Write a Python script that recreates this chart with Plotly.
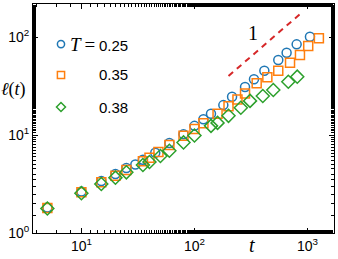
import plotly.graph_objects as go

# Data
t_025 = [5, 10, 15, 20, 25, 30, 35, 45, 60, 80, 100, 120, 140, 180, 215, 280, 336, 415, 551, 653, 801, 1050]
l_025 = [1.82, 2.65, 3.4, 4.0, 4.6, 5.0, 5.6, 6.6, 8.3, 10.2, 12.4, 14.5, 16.5, 20.2, 24.6, 30.9, 37, 45.3, 58.2, 69.2, 84.2, 100.7]

t_035 = [5, 10, 15, 20, 25, 35, 40, 48, 60, 80, 100, 120, 160, 200, 240, 280, 355, 441, 551, 700, 857, 1014, 1260]
l_035 = [1.8, 2.6, 3.3, 3.85, 4.4, 5.4, 5.85, 6.7, 7.9, 9.8, 11.5, 13.2, 16.5, 19.6, 23.1, 26.6, 33.7, 38.8, 45.3, 54.7, 65.5, 80.9, 97]

t_038 = [5, 10, 15, 20, 25, 35, 40, 50, 60, 80, 100, 140, 160, 200, 257, 310, 402, 498, 676, 811]
l_038 = [1.78, 2.55, 3.16, 3.67, 4.16, 4.94, 5.3, 6.1, 6.9, 8.4, 9.9, 12.4, 13.3, 15.7, 19, 22.3, 25, 28.8, 35, 39.4]

temps = ["0.25", "0.35", "0.38"]
colors = ["#1f77b4", "#ff7f0e", "#2ca02c"]

guide_t = [200, 870]
guide_l = [40, 174]
guide_label = "1"

x_tickvals = [10, 100, 1000]
x_ticktext = ["10<sup>1</sup>", "10<sup>2</sup>", "10<sup>3</sup>"]
y_tickvals = [1, 10, 100]
y_ticktext = ["10<sup>0</sup>", "10<sup>1</sup>", "10<sup>2</sup>"]

SERIF = "Liberation Serif"
SANS = "Liberation Sans"

fig = go.Figure()
fig.add_trace(go.Scatter(x=t_025, y=l_025, mode="markers", name="T=" + temps[0], showlegend=False,
                         marker=dict(symbol="circle-open", size=9, color=colors[0], line=dict(width=1.5))))
fig.add_trace(go.Scatter(x=t_035, y=l_035, mode="markers", name="T=" + temps[1], showlegend=False,
                         marker=dict(symbol="square-open", size=9, color=colors[1], line=dict(width=1.5))))
fig.add_trace(go.Scatter(x=t_038, y=l_038, mode="markers", name="T=" + temps[2], showlegend=False,
                         marker=dict(symbol="diamond-open", size=10, color=colors[2], line=dict(width=1.5))))
fig.add_trace(go.Scatter(x=guide_t, y=guide_l, mode="lines", showlegend=False,
                         line=dict(color="#d62728", width=2, dash="6px,5px")))

# Legend (keys as pixel-sized shapes, labels as text)
leg_x = 0.093
leg_y = [0.825, 0.690, 0.550]
text_right = 0.322
fig.add_shape(type="circle", xref="paper", yref="paper", xsizemode="pixel", ysizemode="pixel",
              xanchor=leg_x, yanchor=leg_y[0], x0=-3.6, x1=3.6, y0=-3.6, y1=3.6,
              line=dict(color=colors[0], width=1.5))
fig.add_shape(type="rect", xref="paper", yref="paper", xsizemode="pixel", ysizemode="pixel",
              xanchor=leg_x, yanchor=leg_y[1], x0=-3.6, x1=3.6, y0=-3.6, y1=3.6,
              line=dict(color=colors[1], width=1.5))
fig.add_shape(type="path", xref="paper", yref="paper", xsizemode="pixel", ysizemode="pixel",
              xanchor=leg_x, yanchor=leg_y[2], path="M -4.5 0 L 0 4.5 L 4.5 0 L 0 -4.5 Z",
              line=dict(color=colors[2], width=1.5))
legend_texts = [
    '<span style="font-family:Liberation Serif;font-size:19px"><i>T</i>\u2009=\u2009</span>' + temps[0],
    temps[1],
    temps[2],
]
for txt, yy in zip(legend_texts, leg_y):
    fig.add_annotation(x=text_right, y=yy, xref="paper", yref="paper", xanchor="right", yanchor="middle",
                       text=txt, showarrow=False, font=dict(family=SANS, size=15, color="black"))

fig.add_annotation(x=2.521, y=2.04, xref="x", yref="y", text=guide_label, showarrow=False,
                   font=dict(family=SERIF, size=20, color="black"))
fig.add_annotation(x=0.0, y=0.625, xref="paper", yref="paper", xanchor="center", yanchor="middle",
                   xshift=-20, text="<i>ℓ</i>(<i>t</i>)", showarrow=False,
                   font=dict(family=SERIF, size=18, color="black"))
fig.add_annotation(x=2.51, y=0, xref="x", yref="paper", yanchor="top", yshift=1,
                   text="<i>t</i>", showarrow=False,
                   font=dict(family=SERIF, size=20, color="black"))

axis_common = dict(
    type="log", showgrid=False, zeroline=False, showline=True, linecolor="black", linewidth=1,
    mirror="allticks", ticks="inside", ticklen=5, tickwidth=1, tickcolor="black",
    minor=dict(ticks="inside", ticklen=3, tickwidth=1, tickcolor="black", showgrid=False),
    tickfont=dict(family=SANS, size=14, color="black"),
)

fig.update_xaxes(range=[0.572, 3.234], tickvals=x_tickvals, ticktext=x_ticktext, **axis_common)
fig.update_yaxes(range=[0.0, 2.337], tickvals=y_tickvals, ticktext=y_ticktext, **axis_common)

fig.update_layout(
    width=338, height=259,
    margin=dict(l=33, r=4, t=4, b=26),
    paper_bgcolor="white", plot_bgcolor="white",
    showlegend=False,
)

fig.write_html("out.html", config={"displayModeBar": False},
               post_script="document.body.style.margin='0';document.body.style.padding='0';")
